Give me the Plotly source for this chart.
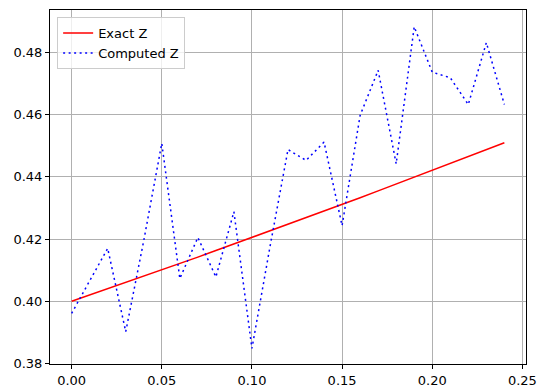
import plotly.graph_objects as go

x_vals = [0.00, 0.01, 0.02, 0.03, 0.04, 0.05, 0.06, 0.07, 0.08, 0.09,
          0.10, 0.11, 0.12, 0.13, 0.14, 0.15, 0.16, 0.17, 0.18, 0.19,
          0.20, 0.21, 0.22, 0.23, 0.24]
exact_z = [0.4000, 0.4020, 0.4040, 0.4061, 0.4081, 0.4101, 0.4122, 0.4142,
           0.4163, 0.4184, 0.4205, 0.4226, 0.4247, 0.4269, 0.4290, 0.4311,
           0.4333, 0.4355, 0.4377, 0.4399, 0.4421, 0.4443, 0.4465, 0.4488,
           0.4510]
computed_z = [0.3961, 0.4065, 0.4170, 0.3902, 0.4195, 0.4508, 0.4073, 0.4205,
              0.4078, 0.4288, 0.3848, 0.4175, 0.4488, 0.4453, 0.4512, 0.4243,
              0.4598, 0.4743, 0.4442, 0.4883, 0.4737, 0.4719, 0.4633, 0.4832,
              0.4633]
x_ticks = [0.00, 0.05, 0.10, 0.15, 0.20, 0.25]
y_ticks = [0.38, 0.40, 0.42, 0.44, 0.46, 0.48]

font = "DejaVu Sans"
fig = go.Figure()
fig.add_trace(go.Scatter(x=x_vals, y=exact_z, mode="lines", name="Exact Z",
                         line=dict(color="red", width=1.5)))
fig.add_trace(go.Scatter(x=x_vals, y=computed_z, mode="lines", name="Computed Z",
                         line=dict(color="blue", width=1.5, dash="2px,3.5px")))

axis_common = dict(showline=True, linecolor="black", linewidth=1, mirror=True,
                   ticks="outside", ticklen=4, tickwidth=1, tickcolor="black",
                   showgrid=True, gridcolor="#b0b0b0", gridwidth=1, zeroline=False,
                   automargin=False,
                   tickfont=dict(family=font, size=13, color="black"))
fig.update_xaxes(range=[-0.012, 0.252], tickvals=x_ticks, tickformat=".2f", **axis_common)
fig.update_yaxes(range=[0.3798, 0.4937], tickvals=y_ticks, tickformat=".2f", **axis_common)

fig.update_layout(
    width=538, height=390,
    margin=dict(l=50, r=12, t=10, b=26),
    paper_bgcolor="white", plot_bgcolor="white",
    font=dict(family=font, size=13, color="black"),
    legend=dict(x=0.015, y=0.98, xanchor="left", yanchor="top",
                bgcolor="rgba(255,255,255,0.8)", bordercolor="#cccccc", borderwidth=1,
                font=dict(family=font, size=13), tracegroupgap=0),
    showlegend=True,
)
fig.write_html("out.html", config={"displayModeBar": False},
               post_script="document.body.style.margin='0';document.body.style.overflow='hidden';")
